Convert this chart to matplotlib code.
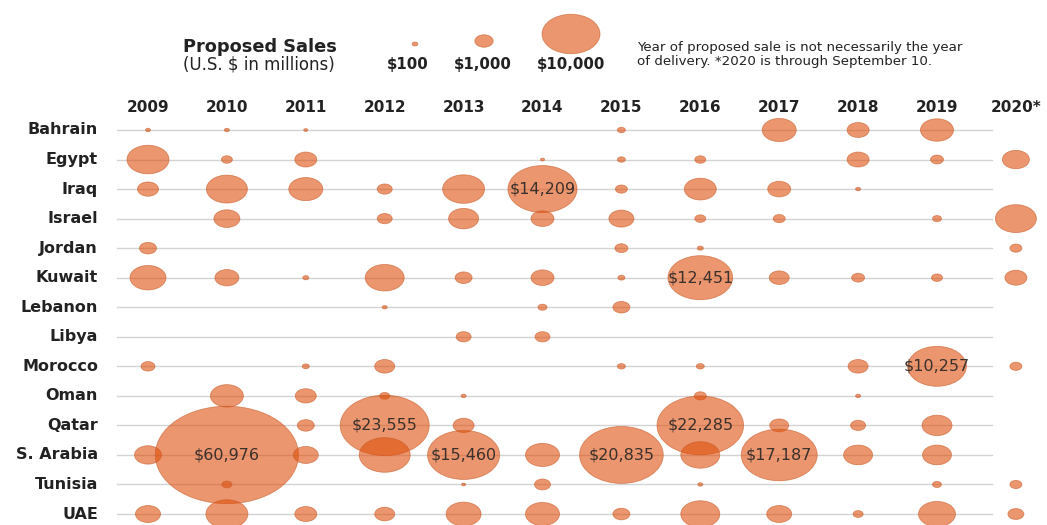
import numpy as np
import matplotlib
matplotlib.use("Agg")
import matplotlib.pyplot as plt
from matplotlib.path import Path
from matplotlib.transforms import Affine2D

years = ["2009", "2010", "2011", "2012", "2013", "2014", "2015", "2016", "2017", "2018", "2019", "2020*"]
countries = ["Bahrain", "Egypt", "Iraq", "Israel", "Jordan", "Kuwait", "Lebanon", "Libya",
             "Morocco", "Oman", "Qatar", "S. Arabia", "Tunisia", "UAE"]

# proposed sales, U.S. $ millions (0 = none); estimated from the picture except the labelled ones
bahrain   = [75, 75, 50, 0, 0, 0, 190, 0, 3440, 1440, 3240, 0]
egypt     = [5240, 360, 1440, 0, 0, 50, 190, 360, 0, 1440, 500, 2170]
iraq      = [1310, 5000, 3440, 670, 5240, 14209, 430, 3040, 1570, 75, 0, 0]
israel    = [0, 2010, 0, 670, 2680, 1570, 1860, 360, 430, 0, 240, 5000]
jordan    = [860, 0, 0, 0, 0, 0, 500, 110, 0, 0, 0, 430]
kuwait    = [3850, 1710, 110, 4520, 860, 1570, 150, 12451, 1190, 500, 360, 1440]
lebanon   = [0, 0, 0, 75, 0, 240, 860, 0, 0, 0, 0, 0]
libya     = [0, 0, 0, 0, 670, 670, 0, 0, 0, 0, 0, 0]
morocco   = [580, 0, 150, 1190, 0, 0, 190, 190, 0, 1190, 10257, 430]
oman      = [0, 3240, 1310, 300, 75, 0, 0, 430, 0, 75, 0, 0]
qatar     = [0, 0, 860, 23555, 1310, 0, 0, 22285, 1070, 670, 2680, 0]
s_arabia  = [2170, 60976, 1860, 7730, 15460, 3440, 20835, 4520, 17187, 2500, 2500, 0]
tunisia   = [0, 300, 0, 0, 50, 760, 0, 75, 0, 0, 240, 430]
uae       = [1860, 5240, 1440, 1190, 3640, 3440, 860, 4520, 1860, 300, 4070, 760]
rows = [bahrain, egypt, iraq, israel, jordan, kuwait, lebanon, libya,
        morocco, oman, qatar, s_arabia, tunisia, uae]

legend_values = [100, 1000, 10000]
legend_labels = ["$100", "$1,000", "$10,000"]
label_threshold = 10000

W, H, DPI = 1047, 525, 100
fig = plt.figure(figsize=(W / DPI, H / DPI), dpi=DPI, facecolor="white")
ax = fig.add_axes([0, 0, 1, 1])
ax.set_axis_off()

# pixel layout -> data coordinates
x0_px, dx_px = 148, 78.9
y0_px, dy_px = 130, 29.54
ax.set_xlim(-x0_px / dx_px, (W - x0_px) / dx_px)
ax.set_ylim((H - y0_px) / dy_px, -y0_px / dy_px)

def px2x(p):
    return (p - x0_px) / dx_px

def py2y(p):
    return (p - y0_px) / dy_px

# elliptical marker (reference is squashed vertically)
ell = Affine2D().scale(1.0, 0.68).transform_path(Path.unit_circle())

def size_of(v):
    width_px = 2 * 29 * np.sqrt(np.asarray(v, dtype=float) / 10000.0)
    return (width_px * 72.0 / DPI) ** 2

face = (222 / 255, 80 / 255, 13 / 255)
edge = (0.78, 0.35, 0.15)
ALPHA = 0.6
txt = "#222222"

# grid lines and labels
for i, c in enumerate(countries):
    ax.plot([px2x(117), px2x(992)], [i, i], color="#d3d3d3", lw=1.0, zorder=1)
    ax.text(px2x(98), i, c, ha="right", va="center", fontsize=11.5,
            fontweight="bold", color=txt, family="DejaVu Sans")

for j, yr in enumerate(years):
    ax.text(j, py2y(107), yr, ha="center", va="center", fontsize=11,
            fontweight="bold", color=txt, family="DejaVu Sans")

xs, ys, vs = [], [], []
for i, row in enumerate(rows):
    for j, v in enumerate(row):
        if v > 0:
            xs.append(j); ys.append(i); vs.append(v)
ax.scatter(xs, ys, s=size_of(vs), marker=ell, facecolor=face, edgecolor=edge,
           linewidths=0.6, alpha=ALPHA, zorder=2)

for x, y, v in zip(xs, ys, vs):
    if v >= label_threshold:
        ax.text(x, y, f"${v:,}", ha="center", va="center", fontsize=11.5,
                color="#3a302c", zorder=4, family="DejaVu Sans")

# legend
ax.text(px2x(183), py2y(47), "Proposed Sales", ha="left", va="center", fontsize=12.8,
        fontweight="bold", color=txt, family="DejaVu Sans")
ax.text(px2x(183), py2y(64), "(U.S. $ in millions)", ha="left", va="center", fontsize=12,
        color=txt, family="DejaVu Sans")
leg_x = [px2x(415), px2x(484), px2x(571)]
leg_y = [py2y(44), py2y(41), py2y(34)]
ax.scatter(leg_x, leg_y, s=size_of(legend_values), marker=ell, facecolor=face,
           edgecolor=edge, linewidths=0.6, alpha=ALPHA, zorder=2)
for x, lab in zip([px2x(408), px2x(483), px2x(571)], legend_labels):
    ax.text(x, py2y(64), lab, ha="center", va="center", fontsize=10.8,
            fontweight="bold", color=txt, family="DejaVu Sans")

ax.text(px2x(637), py2y(48), "Year of proposed sale is not necessarily the year",
        ha="left", va="center", fontsize=9.6, color=txt, family="DejaVu Sans")
ax.text(px2x(637), py2y(61), "of delivery. *2020 is through September 10.",
        ha="left", va="center", fontsize=9.6, color=txt, family="DejaVu Sans")

fig.savefig("out.png", dpi=DPI, facecolor="white")
